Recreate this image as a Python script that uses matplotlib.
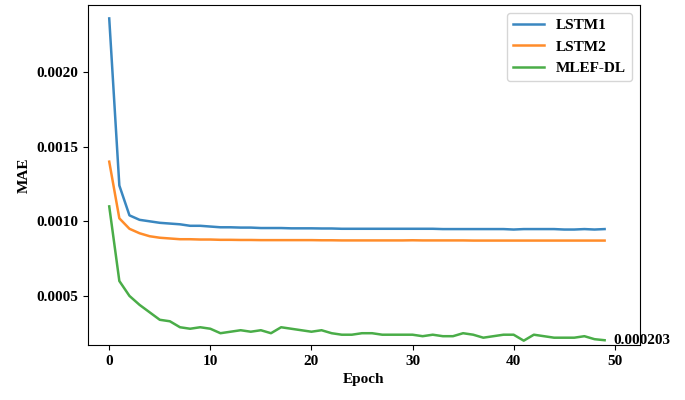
import matplotlib
matplotlib.use("Agg")
import matplotlib.pyplot as plt
import numpy as np

plt.rcParams["font.family"] = "Liberation Serif"
plt.rcParams["font.weight"] = "bold"

epochs = list(range(50))
lstm1 = [0.00236, 0.00124, 0.00104, 0.00101, 0.00100, 0.00099, 0.000985, 0.00098, 0.00097, 0.00097,
         0.000965, 0.00096, 0.00096, 0.000958, 0.000958, 0.000955, 0.000955, 0.000955, 0.000953, 0.000953,
         0.000953, 0.000952, 0.000952, 0.00095, 0.00095, 0.00095, 0.00095, 0.00095, 0.00095, 0.00095,
         0.00095, 0.00095, 0.00095, 0.000948, 0.000948, 0.000948, 0.000948, 0.000948, 0.000948, 0.000948,
         0.000945, 0.000948, 0.000948, 0.000948, 0.000948, 0.000945, 0.000945, 0.000948, 0.000945, 0.000948]
lstm2 = [0.00140, 0.00102, 0.00095, 0.00092, 0.00090, 0.00089, 0.000885, 0.00088, 0.00088, 0.000878,
         0.000878, 0.000876, 0.000876, 0.000875, 0.000875, 0.000874, 0.000874, 0.000874, 0.000874, 0.000874,
         0.000874, 0.000873, 0.000873, 0.000872, 0.000872, 0.000872, 0.000872, 0.000872, 0.000872, 0.000872,
         0.000873, 0.000872, 0.000872, 0.000872, 0.000872, 0.000872, 0.000871, 0.000871, 0.000871, 0.000871,
         0.000871, 0.000871, 0.000871, 0.000871, 0.000871, 0.000871, 0.000871, 0.000871, 0.000871, 0.000871]
mlef = [0.00110, 0.00060, 0.00050, 0.00044, 0.00039, 0.00034, 0.00033, 0.00029, 0.00028, 0.00029,
        0.00028, 0.00025, 0.00026, 0.00027, 0.00026, 0.00027, 0.00025, 0.00029, 0.00028, 0.00027,
        0.00026, 0.00027, 0.00025, 0.00024, 0.00024, 0.00025, 0.00025, 0.00024, 0.00024, 0.00024,
        0.00024, 0.00023, 0.00024, 0.00023, 0.00023, 0.00025, 0.00024, 0.00022, 0.00023, 0.00024,
        0.00024, 0.00020, 0.00024, 0.00023, 0.00022, 0.00022, 0.00022, 0.00023, 0.00021, 0.000203]
final_label = "0.000203"

fig = plt.figure(figsize=(6.85, 4.0), dpi=100)
ax = fig.add_axes([88/685, 55/400, 552/685, 340/400])
ax.plot(epochs, lstm1, color="#3a87c0", lw=1.8, label="LSTM1")
ax.plot(epochs, lstm2, color="#ff8c2a", lw=1.8, label="LSTM2")
ax.plot(epochs, mlef, color="#4aad48", lw=1.8, label="MLEF-DL")
ax.set_xlim(-2.1, 52.5)
ax.set_ylim(0.000171, 0.00245)
ax.set_xticks([0, 10, 20, 30, 40, 50])
ax.set_yticks([0.0005, 0.0010, 0.0015, 0.0020])
ax.set_yticklabels(["0.0005", "0.0010", "0.0015", "0.0020"])
ax.tick_params(labelsize=11)
ax.set_xlabel("Epoch", fontsize=11, fontweight="bold")
ax.set_ylabel("MAE", fontsize=11, fontweight="bold")
ax.annotate(final_label, (epochs[-1], mlef[-1]), xytext=(6, 0), textcoords="offset points",
            va="center", fontsize=11, fontweight="bold", annotation_clip=False)
ax.legend(loc="upper right", fontsize=11, frameon=True)
fig.savefig("out.png", dpi=100)
